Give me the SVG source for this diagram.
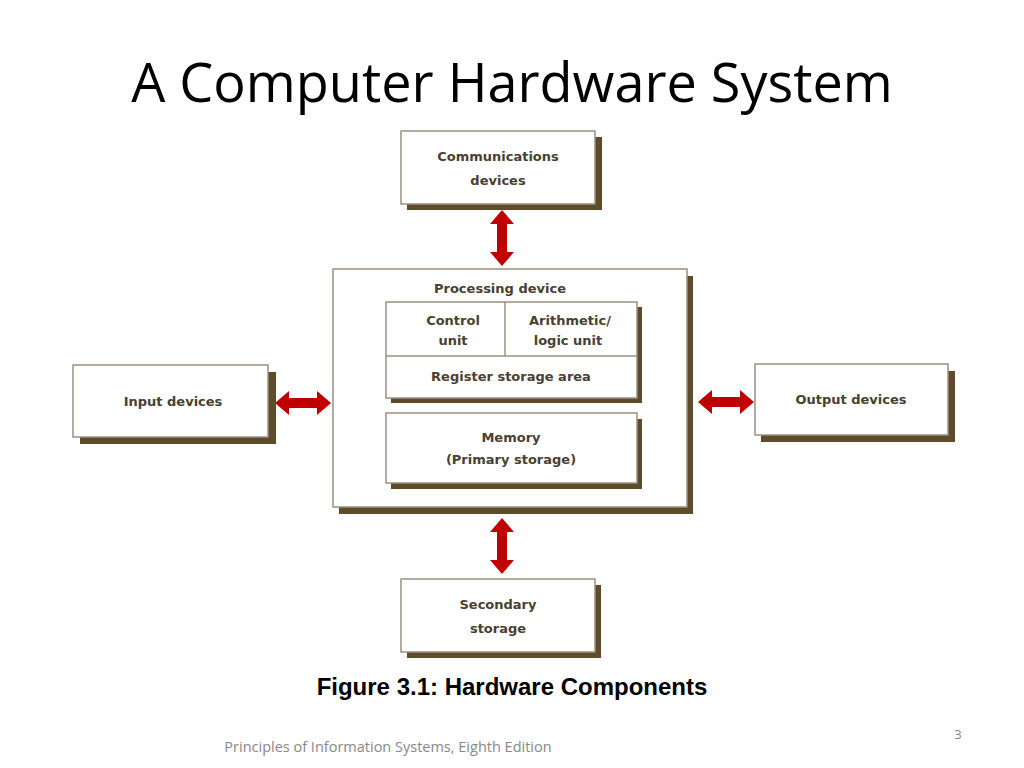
<svg xmlns="http://www.w3.org/2000/svg" width="1024" height="768" viewBox="0 0 1024 768">
<defs>
<style>
.sh{fill:#5e4b2b}
.bx{fill:#fff;stroke:#9a9080;stroke-width:1.5}
.ln{stroke:#9a9080;stroke-width:1.5}
.t{font-family:"DejaVu Sans",sans-serif;font-weight:bold;font-size:13px;fill:#4a4030;text-anchor:middle}
.ar{fill:#c00000}
</style>
<polygon id="ah" points="-28,0 -14,-12 -14,-5 14,-5 14,-12 28,0 14,12 14,5 -14,5 -14,12"/>
</defs>
<rect width="1024" height="768" fill="#fff"/>
<text x="512" y="102" font-family="Open Sans,'Noto Sans',sans-serif" font-size="54" text-anchor="middle" fill="#000">A Computer Hardware System</text>
<g id="connectors" class="ar">
<use href="#ah" transform="translate(502,238) rotate(90)"/>
<use href="#ah" transform="translate(502,546) rotate(90)"/>
<use href="#ah" transform="translate(303,403)"/>
<use href="#ah" transform="translate(726,402)"/>
</g>
<g id="comm"><rect class="sh" x="407" y="137" width="195" height="73"/><rect class="bx" x="401" y="131" width="194" height="73"/><text class="t" x="498" y="161">Communications</text><text class="t" x="498" y="185">devices</text></g>
<g id="processing"><rect class="sh" x="339" y="276" width="354" height="238"/><rect class="bx" x="333" y="269" width="354" height="238"/><text class="t" x="500" y="293">Processing device</text></g>
<g id="cpu"><rect class="sh" x="391" y="307" width="251" height="96"/><rect class="bx" x="386" y="302" width="251" height="96"/><line class="ln" x1="386" y1="356" x2="637" y2="356"/><line class="ln" x1="505" y1="302" x2="505" y2="356"/>
<text class="t" x="453" y="325">Control</text><text class="t" x="453" y="345">unit</text><text class="t" x="570" y="325">Arithmetic/</text><text class="t" x="568" y="345">logic unit</text><text class="t" x="511" y="381">Register storage area</text></g>
<g id="memory"><rect class="sh" x="391" y="419" width="251" height="70"/><rect class="bx" x="386" y="413" width="251" height="70"/><text class="t" x="511" y="442">Memory</text><text class="t" x="511" y="464">(Primary storage)</text></g>
<g id="input"><rect class="sh" x="80" y="372" width="196" height="72"/><rect class="bx" x="73" y="365" width="195" height="72"/><text class="t" x="173" y="406">Input devices</text></g>
<g id="output"><rect class="sh" x="761" y="371" width="194" height="71"/><rect class="bx" x="755" y="364" width="193" height="71"/><text class="t" x="851" y="404">Output devices</text></g>
<g id="secondary"><rect class="sh" x="407" y="585" width="194" height="73"/><rect class="bx" x="401" y="579" width="194" height="73"/><text class="t" x="498" y="609">Secondary</text><text class="t" x="498" y="633">storage</text></g>
<text x="512" y="695" font-family="'Liberation Sans',Arial,sans-serif" font-weight="bold" font-size="24" text-anchor="middle" fill="#000">Figure 3.1: Hardware Components</text>
<text x="958" y="739" font-family="Open Sans,sans-serif" font-size="13" text-anchor="middle" fill="#888">3</text>
<text x="388" y="752" font-family="Open Sans,sans-serif" font-size="14.5" text-anchor="middle" fill="#888">Principles of Information Systems, Eighth Edition</text>
</svg>
